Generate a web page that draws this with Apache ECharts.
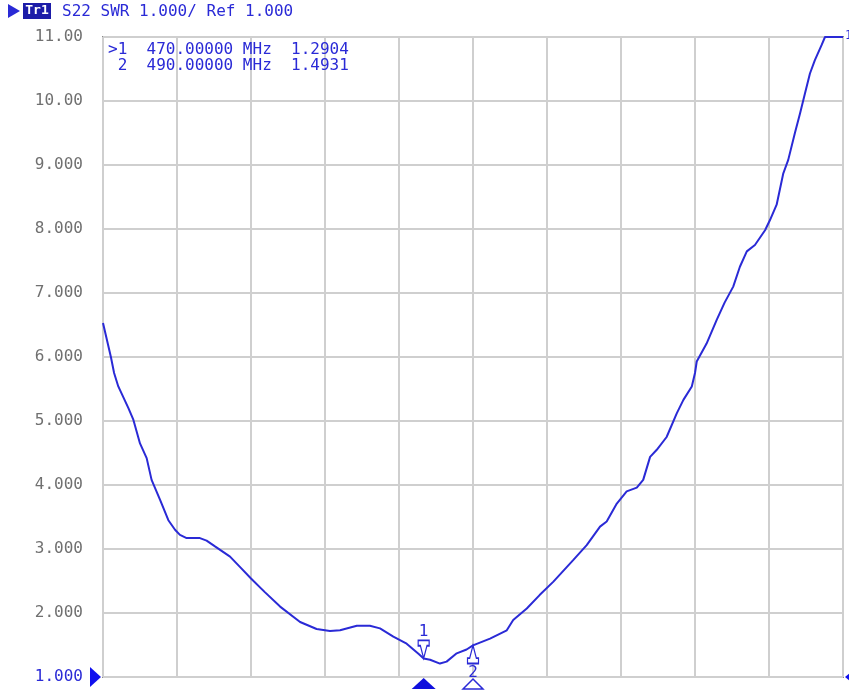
<!DOCTYPE html>
<html>
<head>
<meta charset="utf-8">
<script src="https://cdn.jsdelivr.net/npm/echarts@6/dist/echarts.min.js"></script>
<style>
  html, body { margin: 0; padding: 0; background: #ffffff; }
  #chart { width: 849px; height: 690px; }
</style>
</head>
<body>
<div id="chart"></div>
<script>
// ---- data ----
const freqMHz = [340.0, 343.2, 344.5, 346.2, 350.3, 352.3, 355.0, 357.7, 359.7, 363.1, 366.5, 369.2, 371.2, 373.9,
  379.3, 382.0, 385.4, 391.5, 395.5, 400.0, 405.5, 411.8, 419.9, 426.6, 432.0, 436.1, 442.9, 448.2, 452.3,
  457.7, 463.1, 468.0, 470.0, 472.6, 476.6, 479.3, 483.4, 487.4, 490.0, 496.9, 503.7, 506.3, 511.8, 517.0,
  522.6, 530.7, 536.1, 541.5, 544.2, 548.3, 552.3, 556.4, 559.0, 561.8, 564.5, 568.5, 572.6, 575.3, 578.7,
  580.0, 580.7, 584.7, 588.8, 592.0, 595.5, 598.2, 601.0, 604.3, 608.4, 610.4, 613.1, 615.8, 617.8, 620.5,
  622.6, 624.6, 626.6, 628.6, 631.4, 632.7, 640.0];
const swrValues = [6.53, 6.00, 5.75, 5.54, 5.20, 5.02, 4.65, 4.42, 4.08, 3.77, 3.45, 3.30, 3.22, 3.17,
  3.17, 3.13, 3.04, 2.88, 2.72, 2.54, 2.33, 2.10, 1.86, 1.75, 1.72, 1.73, 1.80, 1.80, 1.76,
  1.63, 1.52, 1.36, 1.2904, 1.27, 1.21, 1.24, 1.37, 1.43, 1.4931, 1.60, 1.73, 1.89, 2.07, 2.28,
  2.49, 2.83, 3.06, 3.35, 3.43, 3.71, 3.90, 3.96, 4.08, 4.44, 4.55, 4.75, 5.12, 5.33, 5.54,
  5.75, 5.93, 6.21, 6.58, 6.85, 7.10, 7.41, 7.65, 7.75, 7.98, 8.14, 8.38, 8.87, 9.08, 9.50,
  9.81, 10.12, 10.43, 10.64, 10.88, 11.00, 11.00];
const markerNames = ['1', '2'];
const markerFreq = [470, 490];
const markerSwr = [1.2904, 1.4931];
const markerLines = ['>1  470.00000 MHz  1.2904', ' 2  490.00000 MHz  1.4931'];
const headerText = 'S22 SWR 1.000/ Ref 1.000';
const xMin = 340, xMax = 640;
const yMin = 1, yMax = 11;

// ---- chart ----
const BLUE = '#2a2ad6';
const MONO = '"DejaVu Sans Mono", monospace';
const chart = echarts.init(document.getElementById('chart'), null, { renderer: 'canvas' });

const pinDown = 'path://M0,0 L10,0 L10,5 L8,5 L5,17 L2,5 L0,5 Z';
const pinUp = 'path://M5,0 L8,12 L10,12 L10,17 L0,17 L0,12 L2,12 Z';

const option = {
  animation: false,
  backgroundColor: '#ffffff',
  grid: { left: 103, top: 37, right: 6, bottom: 13, show: true, borderColor: '#8a8a8a', borderWidth: 2, backgroundColor: 'transparent' },
  xAxis: [
    { type: 'value', min: xMin, max: xMax, show: true, axisLine: { show: false }, axisTick: { show: false },
      axisLabel: { show: false }, splitLine: { show: false } },
    { type: 'value', min: 0, max: 10, interval: 1, position: 'top', axisLine: { show: false }, axisTick: { show: false },
      axisLabel: { show: false }, splitLine: { show: true, lineStyle: { color: '#cfcfcf', width: 2 } } }
  ],
  yAxis: {
    type: 'value', min: yMin, max: yMax, interval: 1,
    axisLine: { show: false }, axisTick: { show: false },
    splitLine: { show: true, lineStyle: { color: '#cfcfcf', width: 2 } },
    axisLabel: {
      margin: 20, fontFamily: MONO, fontSize: 16, color: '#707070',
      formatter: v => v === 1 ? '{b|1.000}' : (v >= 10 ? v.toFixed(2) : v.toFixed(3)),
      rich: { b: { color: BLUE, fontFamily: MONO, fontSize: 16 } }
    }
  },
  series: [{
    type: 'line', xAxisIndex: 0, yAxisIndex: 0,
    data: freqMHz.map((f, i) => [f, swrValues[i]]),
    showSymbol: false, smooth: false,
    lineStyle: { color: BLUE, width: 2 },
    markPoint: {
      silent: true,
      data: markerFreq.map((f, i) => ({
        coord: [f, markerSwr[i]],
        symbol: i === 0 ? pinDown : pinUp,
        symbolSize: [11, 18],
        symbolOffset: [0, i === 0 ? -9 : 9],
        itemStyle: { color: '#ffffff', borderColor: BLUE, borderWidth: 1.5 },
        label: { show: true, formatter: markerNames[i], position: i === 0 ? 'top' : 'bottom', distance: 0,
          color: BLUE, fontFamily: MONO, fontSize: 16 }
      }))
    }
  }]
};
chart.setOption(option);

// overlay graphics positioned through the chart's scales
const p1 = chart.convertToPixel({ xAxisIndex: 0, yAxisIndex: 0 }, [markerFreq[0], yMin]);
const p2 = chart.convertToPixel({ xAxisIndex: 0, yAxisIndex: 0 }, [markerFreq[1], yMin]);
const pTop = chart.convertToPixel({ xAxisIndex: 0, yAxisIndex: 0 }, [xMax, yMax]);
const pBot = chart.convertToPixel({ xAxisIndex: 0, yAxisIndex: 0 }, [xMin, yMin]);
const pBotR = chart.convertToPixel({ xAxisIndex: 0, yAxisIndex: 0 }, [xMax, yMin]);

chart.setOption({
  graphic: [
    { type: 'polygon', shape: { points: [[8, 4], [20, 11], [8, 18]] }, style: { fill: BLUE } },
    { type: 'rect', shape: { x: 23, y: 3, width: 28, height: 16 }, style: { fill: '#1c1ca8' } },
    { type: 'text', x: 37, y: 11, style: { text: 'Tr1', fill: '#ffffff', fontFamily: MONO, fontSize: 13, fontWeight: 'bold', align: 'center', verticalAlign: 'middle' } },
    { type: 'text', x: 62, y: 12, style: { text: headerText, fill: BLUE, fontFamily: MONO, fontSize: 16, verticalAlign: 'middle' } },
    { type: 'text', x: 108, y: 50, style: { text: markerLines[0], fill: BLUE, fontFamily: MONO, fontSize: 16, verticalAlign: 'middle' } },
    { type: 'text', x: 108, y: 66, style: { text: markerLines[1], fill: BLUE, fontFamily: MONO, fontSize: 16, verticalAlign: 'middle' } },
    // reference arrow on the left
    { type: 'polygon', shape: { points: [[pBot[0] - 13, pBot[1] - 10], [pBot[0] - 2, pBot[1]], [pBot[0] - 13, pBot[1] + 10]] }, style: { fill: '#1010ee' } },
    // active / inactive marker triangles below the plot
    { type: 'polygon', shape: { points: [[p1[0] - 12, p1[1] + 12], [p1[0], p1[1] + 1], [p1[0] + 12, p1[1] + 12]] }, style: { fill: '#1010dd' } },
    { type: 'polygon', shape: { points: [[p2[0] - 10, p2[1] + 12], [p2[0], p2[1] + 2], [p2[0] + 10, p2[1] + 12]] }, style: { fill: '#ffffff', stroke: BLUE, lineWidth: 1.5 } },
    // right-side indicators
    { type: 'text', x: pTop[0] + 2, y: pTop[1] - 1, style: { text: '1', fill: BLUE, fontFamily: MONO, fontSize: 12, verticalAlign: 'middle' } },
    { type: 'polygon', shape: { points: [[pBotR[0] + 2, pBotR[1]], [pBotR[0] + 8, pBotR[1] - 5], [pBotR[0] + 8, pBotR[1] + 5]] }, style: { fill: '#1010ee' } }
  ]
});
</script>
</body>
</html>
